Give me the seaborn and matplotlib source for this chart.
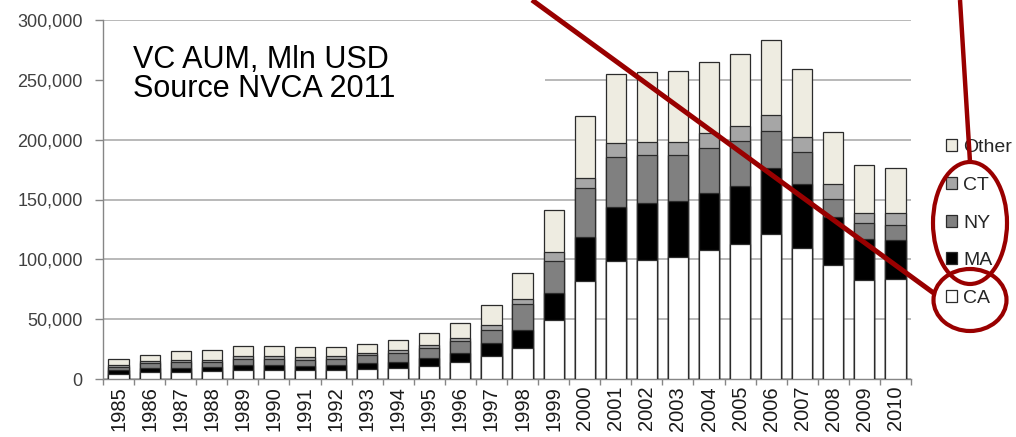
import numpy as np
import pandas as pd
import matplotlib
matplotlib.use("Agg")
import matplotlib.pyplot as plt
import seaborn as sns
from matplotlib.patches import Rectangle, Ellipse

# VC assets under management by state, Mln USD (NVCA 2011)
years = [str(y) for y in range(1985, 2011)]
ca = [4000, 6000, 6000, 6400, 7300, 7500, 7300, 7300, 8100, 8900, 10600, 14000, 19200,
      25600, 49300, 82000, 98600, 99400, 102000, 107800, 112800, 121200, 109500, 95000,
      82700, 83600]
ma = [3500, 3000, 3600, 3600, 4100, 4000, 3600, 4100, 5300, 5300, 6900, 8000, 10600,
      15400, 22300, 36500, 45100, 47700, 46800, 47600, 48500, 55400, 53700, 40400,
      34300, 32600]
ny = [2800, 4500, 4200, 4000, 5300, 5200, 5300, 5300, 6600, 7800, 8400, 10000, 11100,
      21400, 27300, 41000, 41600, 39800, 38100, 37400, 37600, 30700, 26500, 14800,
      13100, 12700]
ct = [1500, 1500, 2200, 2200, 2300, 2300, 2200, 2300, 2000, 2600, 2500, 2500, 4000,
      4200, 7000, 8300, 11700, 10900, 10900, 12500, 12500, 13300, 12500, 12800, 8400,
      9600]
other = [4500, 5000, 7500, 8000, 8600, 8600, 8100, 7500, 7600, 8000, 10000, 12500,
         16700, 22200, 35100, 52300, 58100, 59000, 59800, 59900, 60000, 62400, 57100,
         43400, 40300, 37600]

series = ["CA", "MA", "NY", "CT", "Other"]
colors = {"CA": "#ffffff", "MA": "#000000", "NY": "#808080", "CT": "#a6a6a6",
          "Other": "#eeece1"}
title_lines = ["VC AUM, Mln USD", "Source NVCA 2011"]

df = pd.DataFrame({"year": years, "CA": ca, "MA": ma, "NY": ny, "CT": ct,
                   "Other": other})
cum = df[series].cumsum(axis=1)

sns.set_style("white")
plt.rcParams["font.family"] = ["Liberation Sans", "DejaVu Sans"]

W, H = 1016, 437
fig = plt.figure(figsize=(W / 100, H / 100), dpi=100)
ax = fig.add_axes([103 / W, 1 - 379 / H, 808 / W, 359 / H])

# stacked bars: draw cumulative totals from the top layer down
for s in reversed(series):
    sns.barplot(x=df["year"], y=cum[s], color=colors[s], saturation=1, width=0.65,
                edgecolor="#2b2b2b", linewidth=0.9, ax=ax, zorder=3)

ax.set_xlim(-0.5, len(years) - 0.5)
ax.set_ylim(0, 300000)
ax.set_yticks(np.arange(0, 300001, 50000))
ax.yaxis.set_major_formatter(matplotlib.ticker.FuncFormatter(lambda v, p: f"{v:,.0f}"))
ax.yaxis.grid(True, color="#a6a6a6", linewidth=1.1, zorder=0)
ax.set_axisbelow(True)
ax.set_xlabel("")
ax.set_ylabel("")

for sp in ["top", "right"]:
    ax.spines[sp].set_visible(False)
for sp in ["left", "bottom"]:
    ax.spines[sp].set_color("#868686")
    ax.spines[sp].set_linewidth(1.0)

ax.tick_params(axis="y", which="major", left=True, length=5.5, width=1, color="#868686",
               pad=9, labelsize=13, labelcolor="#404040")
ax.tick_params(axis="x", which="major", length=0, pad=5, labelsize=14.5,
               labelcolor="#1a1a1a", labelrotation=90)
ax.set_xticks(np.arange(-0.5, len(years), 1.0), minor=True)
ax.tick_params(axis="x", which="minor", bottom=True, length=4, width=1, color="#868686")

# white box behind the title text hides part of the grid
ax.add_patch(Rectangle((0, 0.69), 0.547, 0.285, transform=ax.transAxes,
                       facecolor="white", edgecolor="none", zorder=1))
for line, base in zip(title_lines, [68, 97]):
    ax.text((133 - 103) / 808, (379 - base) / 359, line, transform=ax.transAxes,
            fontsize=22, color="black", va="baseline", ha="left", zorder=5)

handles = [Rectangle((0, 0), 1, 1, facecolor=colors[s], edgecolor="#2b2b2b",
                     linewidth=0.9) for s in reversed(series)]
fig.legend(handles, list(reversed(series)), loc="center left",
           bbox_to_anchor=(946 / W, 1 - 223 / H), frameon=False, fontsize=14,
           handlelength=0.57, handleheight=0.57, handletextpad=0.3,
           labelspacing=1.07, borderpad=0, borderaxespad=0)

# red hand-drawn style annotation
ov = fig.add_axes([0, 0, 1, 1], zorder=10)
ov.set_xlim(0, W)
ov.set_ylim(H, 0)
ov.axis("off")
ov.patch.set_alpha(0)
red = "#990000"
ov.plot([532, 935], [0, 294], color=red, linewidth=3.6, solid_capstyle="butt")
ov.plot([960, 970], [0, 162], color=red, linewidth=3.2, solid_capstyle="butt")
ov.add_patch(Ellipse((970, 223), 74, 122, fill=False, edgecolor=red, linewidth=3.0))
ov.add_patch(Ellipse((970, 300), 73, 62, fill=False, edgecolor=red, linewidth=3.0))

fig.savefig("out.png", dpi=100)
